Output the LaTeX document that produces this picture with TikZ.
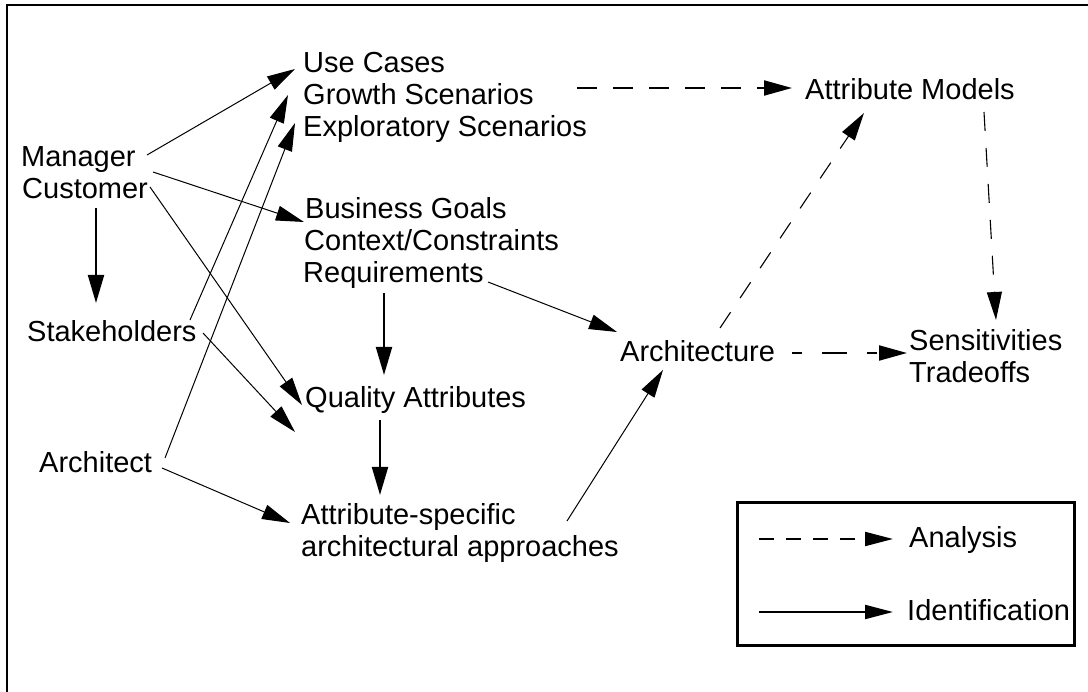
\documentclass[tikz,border=0pt]{standalone}
\usepackage{fontspec}
\setmainfont{Liberation Sans}
\usetikzlibrary{arrows.meta,calc}
\tikzset{
  lbl/.style={inner sep=0pt, anchor=base west, font=\fontsize{29}{32}\selectfont},
  tipA/.style={-{Triangle[length=28pt,width=15pt]}},
  conn/.style={line width=1pt, tipA},
  connb/.style={line width=2pt, -{Triangle[length=28pt,width=16pt]}},
  dsh/.style={line width=1.1pt, dash pattern=on 19pt off 17pt, tipA},
  dshb/.style={line width=2pt, dash pattern=on 20pt off 16pt, tipA},
  frame/.style={line width=2.6pt}
}
\begin{document}
\begin{tikzpicture}[x=1pt,y=-1pt]
\useasboundingbox (0,0) rectangle (1088,692);
% outer frame (cut by the picture edge)
\draw[frame] (7,692) -- (7,5) -- (1088,5);

% left column
\node[lbl] (mgr) at (21,167) {Manager};
\node[lbl] (cus) at (22,199) {Customer};
\node[lbl] (stk) at (27,342) {Stakeholders};
\node[lbl] (arc) at (39,473) {Architect};

% middle column
\node[lbl] (uc) at (303,73) {Use Cases};
\node[lbl] (gs) at (303,105) {Growth Scenarios};
\node[lbl] (es) at (303,137) {Exploratory Scenarios};
\node[lbl] (bg) at (305,219) {Business Goals};
\node[lbl] (cc) at (304,251) {Context/Constraints};
\node[lbl] (rq) at (303,283) {Requirements};
\node[lbl] (qa) at (305,408) {Quality Attributes};
\node[lbl] (as1) at (301,525) {Attribute-specific};
\node[lbl] (as2) at (301,557) {architectural approaches};

% right column
\node[lbl] (am) at (805,100) {Attribute Models};
\node[lbl] (ar) at (620,362) {Architecture};
\node[lbl] (sen) at (909,351) {Sensitivities};
\node[lbl] (tr) at (909,383) {Tradeoffs};

% identification arrows
\draw[conn] ($(mgr.base west)+(126,-12)$) -- ($(uc.base west)+(-8,-4)$);
\draw[conn] ($(mgr.base west)+(132,5)$) -- ($(bg.base west)+(-1,3)$);
\draw[conn] ($(cus.base west)+(128,-12)$) -- ($(qa.base west)+(-3,-3)$);
\draw[conn] ($(stk.base west)+(163,-22)$) -- ($(gs.base west)+(-15,-10)$);
\draw[conn] ($(arc.base west)+(126,-15)$) -- ($(es.base west)+(-8,-14)$);
\draw[conn] ($(stk.base west)+(176,-9)$) -- ($(qa.base west)+(-10,24)$);
\draw[conn] ($(arc.base west)+(123,-5)$) -- ($(as1.base west)+(-11,-2)$);
\draw[connb] ($(cus.base west)+(74,9)$) -- ($(stk.base west)+(69,-39)$);
\draw[connb] ($(rq.base west)+(81,10)$) -- ($(qa.base west)+(79,-33)$);
\draw[connb] ($(qa.base west)+(75,12)$) -- ($(as1.base west)+(79,-30)$);
\draw[conn] ($(rq.base west)+(185,-1)$) -- ($(ar.base west)+(-3,-30)$);
\draw[conn] ($(as1.base west)+(266,-4)$) -- ($(ar.base west)+(43,8)$);

% analysis arrows
\draw[dsh] ($(ar.base west)+(100,-34)$) -- ($(am.base west)+(59,13)$);
\draw[dsh] ($(am.base west)+(179,12)$) -- ($(sen.base west)+(87,-31)$);
\draw[dshb, dash pattern=on 10pt off 20pt on 25pt off 20pt] ($(ar.base west)+(172,-9)$) -- ($(sen.base west)+(-2,2)$);
\draw[dshb] ($(gs.base west)+(274,-17)$) -- ($(am.base west)+(-13,-12)$);

% legend
\node[draw, line width=2.6pt, inner sep=0pt, minimum width=337pt, minimum height=143pt, anchor=north west] (lg) at (736,501) {};
\node[lbl] (an) at (909,548) {Analysis};
\node[lbl] (id) at (907,620) {Identification};
\draw[line width=2pt, dash pattern=on 15pt off 12pt, -{Triangle[length=28pt,width=14pt]}]
  ($(an.base west)+(-150,-9)$) -- ($(an.base west)+(-16,-9)$);
\draw[line width=2pt, -{Triangle[length=28pt,width=14pt]}]
  ($(id.base west)+(-148,-8)$) -- ($(id.base west)+(-14,-8)$);
\end{tikzpicture}
\end{document}
